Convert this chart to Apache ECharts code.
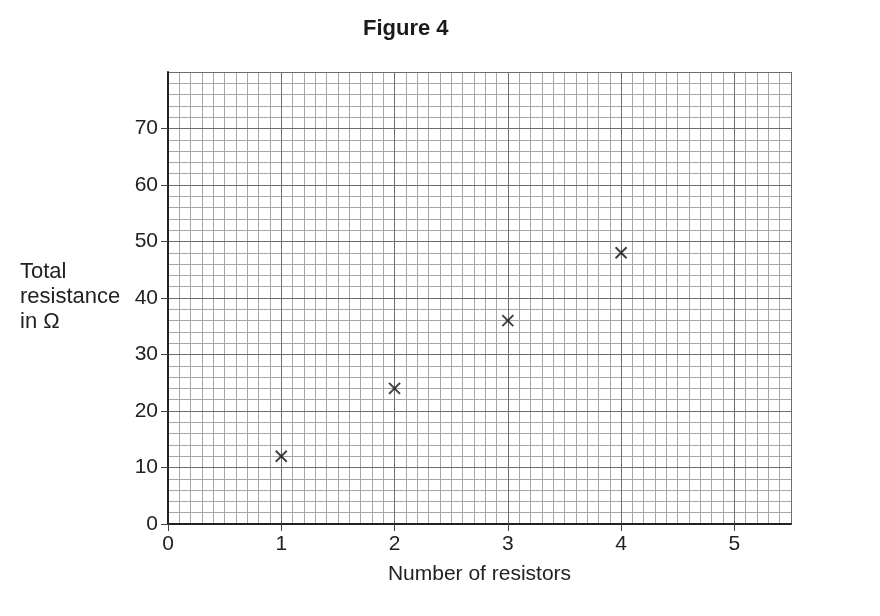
<!DOCTYPE html>
<html>
<head>
<meta charset="utf-8">
<script src="https://cdn.jsdelivr.net/npm/echarts@6/dist/echarts.min.js"></script>
<style>
  html, body { margin: 0; padding: 0; background: #fff; }
  #chart { width: 880px; height: 616px; }
</style>
</head>
<body>
<div id="chart"></div>
<script>
// data
const resistors = [1, 2, 3, 4];
const resistance = [12, 24, 36, 48];
const xTicks = [0, 1, 2, 3, 4, 5];
const yTicks = [0, 10, 20, 30, 40, 50, 60, 70];

const chart = echarts.init(document.getElementById('chart'));
const font = 'Liberation Sans, Arial, sans-serif';
const minorColor = '#a6a6a6';
const majorColor = '#6e6e6e';

// hidden axis only used to draw grid lines
function gridAxis(interval, color, max, idx) {
  return {
    type: 'value', gridIndex: 0, min: 0, max: max, interval: interval,
    axisLine: { show: false }, axisTick: { show: false }, axisLabel: { show: false },
    splitLine: { show: true, lineStyle: { color: color, width: 1 } },
    z: idx
  };
}

const option = {
  backgroundColor: '#fff',
  animation: false,
  title: {
    text: 'Figure 4',
    left: 358, top: 13,
    textStyle: { fontFamily: font, fontSize: 22, fontWeight: 'bold', color: '#1a1a1a' }
  },
  graphic: [{
    type: 'text', left: 20, top: 259,
    style: {
      text: 'Total\nresistance\nin Ω',
      font: '22px ' + font, fill: '#222', lineHeight: 25
    }
  }],
  grid: { left: 168, right: 89, top: 72, bottom: 92 },
  xAxis: [
    {
      type: 'value', min: 0, max: 5.5, interval: 1,
      name: 'Number of resistors', nameLocation: 'middle', nameGap: 40,
      nameTextStyle: { fontFamily: font, fontSize: 21, color: '#222' },
      axisLine: { show: true, onZero: false, lineStyle: { color: '#222', width: 2 } },
      axisTick: { show: true, inside: false, length: 7, customValues: xTicks, lineStyle: { color: '#444', width: 1 } },
      axisLabel: { customValues: xTicks, margin: 10, fontFamily: font, fontSize: 21, color: '#222' },
      splitLine: { show: false },
      z: 10
    },
    gridAxis(0.1, minorColor, 5.5, 1),
    gridAxis(1, majorColor, 5.5, 2)
  ],
  yAxis: [
    {
      type: 'value', min: 0, max: 80, interval: 10,
      axisLine: { show: true, onZero: false, lineStyle: { color: '#222', width: 2 } },
      axisTick: { show: true, inside: false, length: 7, customValues: yTicks, lineStyle: { color: '#444', width: 1 } },
      axisLabel: { customValues: yTicks, margin: 10, fontFamily: font, fontSize: 21, color: '#222' },
      splitLine: { show: false },
      z: 10
    },
    gridAxis(2, minorColor, 80, 1),
    gridAxis(10, majorColor, 80, 2)
  ],
  series: [{
    type: 'scatter',
    xAxisIndex: 0, yAxisIndex: 0,
    data: resistors.map((x, i) => [x, resistance[i]]),
    symbol: 'path://M0,0L10,10M10,0L0,10',
    symbolSize: 11,
    itemStyle: { color: 'none', borderColor: '#111', borderWidth: 2 },
    z: 20
  }]
};

chart.setOption(option);
</script>
</body>
</html>
